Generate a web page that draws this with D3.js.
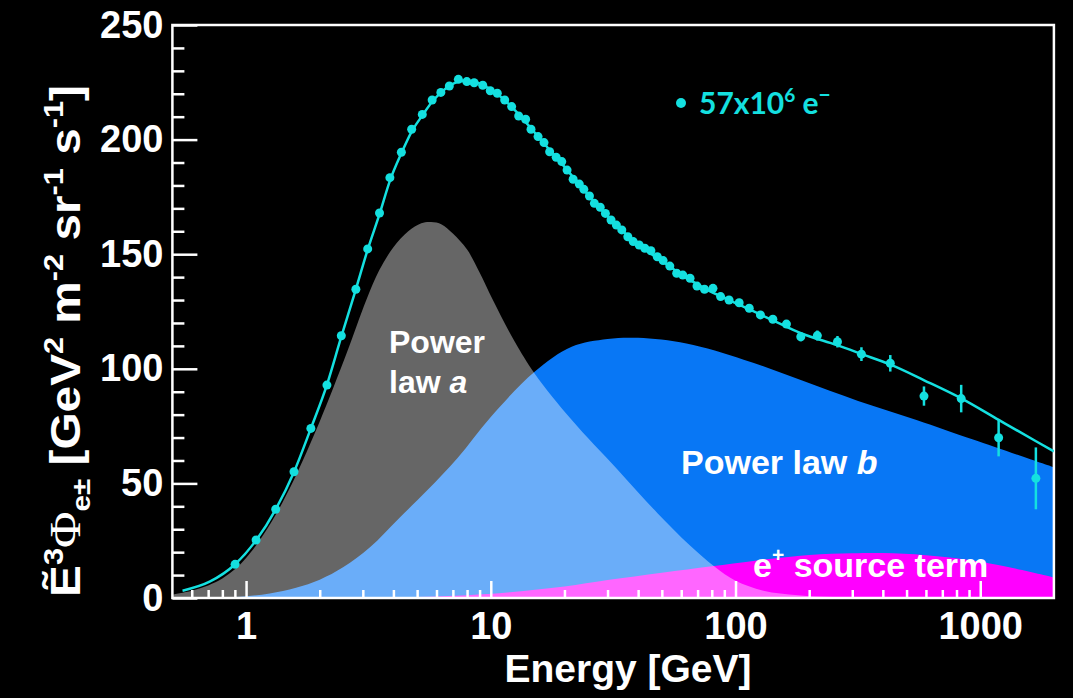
<!DOCTYPE html>
<html>
<head>
<meta charset="utf-8">
<script src="https://cdn.jsdelivr.net/npm/d3@7"></script>
<style>
  body { margin: 0; background: #000; }
  svg { display: block; }
</style>
</head>
<body>
<svg id="chart" width="1073" height="698"></svg>
<script>
// measured points (energy in GeV, E^3 flux)
const dataE = [0.902, 1.099, 1.322, 1.57, 1.84, 2.14, 2.45, 2.81, 3.14, 3.51, 3.87, 4.31, 4.75, 5.25, 5.76, 6.25, 6.77, 7.37, 7.98, 8.55, 9.27, 9.95, 10.63, 11.4, 12.17, 13.0, 13.88, 14.6, 15.6, 16.5, 17.4, 18.5, 19.5, 20.5, 21.7, 23.0, 24.0, 25.3, 26.5, 28.0, 29.4, 31.0, 32.6, 34.3, 36.3, 38.2, 40.4, 42.6, 45.1, 47.9, 50.6, 53.9, 57.5, 60.9, 65.2, 69.6, 74.7, 80.9, 86.9, 94.1, 103.5, 113.8, 126.4, 142.1, 161.5, 184.8, 216, 261, 327, 429, 589, 836, 1189, 1688];
const dataV = [14.7, 25.3, 38.7, 55.1, 74.0, 92.9, 114.4, 134.7, 152.3, 168, 183.4, 194.5, 204.5, 211, 217.3, 220.6, 223.4, 226.3, 225.3, 224.8, 223.7, 221.3, 220.2, 217.3, 214.4, 210.3, 208.9, 204.5, 201.3, 198.7, 194.7, 192.3, 190.4, 186.7, 182.7, 180.6, 178.3, 175.4, 172.2, 170.5, 167.8, 164.9, 162.7, 160.6, 157.6, 155.5, 154, 152.6, 151.5, 148.9, 147.2, 144.8, 141.7, 140.9, 139.5, 136.1, 134.7, 135.1, 131.5, 130, 128.8, 126.4, 123.5, 121.6, 119.5, 114, 114.5, 111.8, 106.4, 102.4, 88.1, 87, 69.9, 52.2];
const dataErr = [0.3, 0.3, 0.4, 0.5, 0.6, 0.7, 0.8, 0.8, 0.9, 0.9, 1, 1, 1, 1, 1, 1, 1, 1, 1, 1, 1, 1, 1, 1, 1, 1, 1, 1, 1, 1, 1, 1, 1, 1, 1, 1, 1, 1, 1, 1, 1, 1, 1, 1, 1, 1, 1, 1, 1, 1, 1, 1, 1, 1, 1, 1, 1, 1.1, 1.1, 1.2, 1.2, 1.3, 1.4, 1.5, 1.7, 2, 2.2, 2.5, 3, 3.6, 4.2, 6, 8.1, 13.5];

// full fit
const fitE = [0.55, 0.71, 0.9, 1.1, 1.32, 1.57, 1.84, 2.14, 2.45, 2.81, 3.14, 3.51, 3.87, 4.31, 4.75, 5.25, 5.76, 6.3, 6.9, 7.6, 8.4, 9.3, 10.6, 12.2, 14, 16.5, 19.5, 23, 28, 34, 40, 50, 60, 75, 94, 115, 140, 185, 260, 330, 430, 590, 840, 1190, 1690, 2000];
const fitV = [3.2, 7.1, 14.6, 25.2, 38.6, 55, 74, 93, 114, 134.7, 152, 167.5, 182, 194, 203.5, 210.5, 216.5, 220.8, 224, 225.6, 225.5, 223.8, 220, 214.2, 207.2, 198.3, 189.5, 180.4, 170, 160.8, 154.3, 147, 141.2, 135, 130, 125.7, 121.5, 115.5, 110.3, 106.3, 101.8, 95, 87, 77.7, 68.4, 64];

// power law a
const aE = [0.5, 0.6, 0.7, 0.8, 0.9, 1.0, 1.1, 1.3, 1.56, 2.0, 2.58, 3.1, 3.5, 4.0, 4.6, 5.2, 5.7, 6.3, 7.0, 8.0, 9.0, 10.2, 12.5, 15.1, 21.3, 33, 48, 65, 82, 100, 130, 180, 250, 400, 2000];
const aV = [1.5, 3.2, 5.5, 8.5, 12.5, 17.5, 23, 35, 51, 77, 107, 130, 143, 153, 160, 163.5, 164, 163, 159, 152, 142, 130, 112, 98, 78, 56, 37, 23, 13.7, 7.5, 3.2, 1.2, 0.4, 0.1, 0];

// power law b
const bE = [0.5, 0.8, 1.0, 1.25, 1.6, 2.0, 2.5, 3.2, 4.24, 5.5, 7.3, 10, 15.1, 21.4, 30, 40, 63, 108, 186, 317, 549, 942, 2000];
const bV = [0, 0.3, 0.8, 2, 4.5, 8, 13.5, 22, 35, 47, 61, 79, 98.7, 109.6, 113, 113.5, 111, 104, 95, 86, 77.7, 69, 57];

// e+ source term
const cE = [0.5, 3, 5, 8, 12, 20, 30, 50, 80, 120, 200, 300, 400, 600, 900, 1300, 2000];
const cV = [0, 0, 0.4, 1.2, 2.5, 5, 7.8, 11, 13.8, 16.3, 18.8, 19.5, 19.6, 18.7, 16.6, 13.5, 9];

const yMajor = [0, 50, 100, 150, 200, 250];
const xMajor = [1, 10, 100, 1000];

const cyan = '#14e0e0';
const font = 'Liberation Sans, Arial, sans-serif';

const svg = d3.select('#chart');
svg.append('rect').attr('width', 1073).attr('height', 698).attr('fill', '#000');

const x = d3.scaleLog().domain([0.5, 2000]).range([172.4, 1053.9]);
const y = d3.scaleLinear().domain([0, 250]).range([598, 25]);

svg.append('clipPath').attr('id', 'plot')
  .append('rect')
  .attr('x', x.range()[0]).attr('y', y.range()[1])
  .attr('width', x.range()[1] - x.range()[0])
  .attr('height', y.range()[0] - y.range()[1]);

const zip = (es, vs) => es.map((e, i) => ({ e: e, v: vs[i] }));

const area = d3.area()
  .x(d => x(d.e))
  .y0(y(0))
  .y1(d => y(d.v))
  .curve(d3.curveCatmullRom.alpha(0.5));

const areas = svg.append('g').attr('clip-path', 'url(#plot)');

areas.append('path')
  .attr('d', area(zip(bE, bV)))
  .attr('fill', '#0877f5');

areas.append('path')
  .attr('d', area(zip(cE, cV)))
  .attr('fill', '#ff00ff');

// white at 40% gives grey on black, light blue on blue, pink on magenta
areas.append('path')
  .attr('d', area(zip(aE, aV)))
  .attr('fill', '#fff')
  .attr('fill-opacity', 0.4);

// axes
svg.append('g')
  .attr('transform', `translate(${x.range()[0]},0)`)
  .call(d3.axisLeft(y).tickValues(yMajor).tickSize(-25).tickPadding(9));

svg.append('g')
  .attr('transform', `translate(${x.range()[0]},0)`)
  .call(d3.axisLeft(y).tickValues(d3.range(0, 251, 10).filter(v => v % 50 !== 0)).tickSize(-12).tickFormat(''));

const xMinor = [];
[0.1, 1, 10, 100].forEach(p => {
  for (let k = 2; k <= 9; k++) {
    const v = p * k;
    if (v > 0.5 && v < 2000) xMinor.push(v);
  }
});

svg.append('g')
  .attr('transform', `translate(0,${y.range()[0]})`)
  .call(d3.axisBottom(x).tickValues(xMajor).tickFormat(d3.format('d')).tickSize(-17).tickPadding(14));

svg.append('g')
  .attr('transform', `translate(0,${y.range()[0]})`)
  .call(d3.axisBottom(x).tickValues(xMinor).tickSize(-8).tickFormat(''));

svg.selectAll('.domain').remove();
svg.selectAll('.tick line').attr('stroke', '#fff').attr('stroke-width', 2.5);
svg.selectAll('.tick text')
  .attr('fill', '#fff')
  .style('font-family', font)
  .style('font-weight', 'bold')
  .style('font-size', '38px');

svg.append('rect')
  .attr('x', x.range()[0]).attr('y', y.range()[1])
  .attr('width', x.range()[1] - x.range()[0])
  .attr('height', y.range()[0] - y.range()[1])
  .attr('fill', 'none')
  .attr('stroke', '#fff')
  .attr('stroke-width', 2.5);

// fit line and points
const line = d3.line()
  .x(d => x(d.e))
  .y(d => y(d.v))
  .curve(d3.curveMonotoneX);

svg.append('path')
  .attr('clip-path', 'url(#plot)')
  .attr('d', line(zip(fitE, fitV)))
  .attr('fill', 'none')
  .attr('stroke', cyan)
  .attr('stroke-width', 2.5);

const pts = dataE.map((e, i) => ({ e: e, v: dataV[i], err: dataErr[i] }));

svg.append('g').selectAll('line')
  .data(pts)
  .enter()
  .append('line')
  .attr('x1', d => x(d.e)).attr('x2', d => x(d.e))
  .attr('y1', d => y(d.v - d.err)).attr('y2', d => y(d.v + d.err))
  .attr('stroke', cyan)
  .attr('stroke-width', 2.5);

svg.append('g').selectAll('circle')
  .data(pts)
  .enter()
  .append('circle')
  .attr('cx', d => x(d.e))
  .attr('cy', d => y(d.v))
  .attr('r', 4.5)
  .attr('fill', cyan);

// legend
svg.append('circle').attr('cx', 681).attr('cy', 103).attr('r', 5).attr('fill', cyan);
const leg = svg.append('text')
  .attr('x', 699).attr('y', 114)
  .attr('fill', cyan)
  .style('font-family', 'Lato, sans-serif')
  .style('font-weight', 'bold')
  .style('font-size', '30px');
leg.append('tspan').text('57x10');
leg.append('tspan').attr('dy', -12).style('font-size', '19px').text('6');
leg.append('tspan').attr('dy', 12).text(' e');
leg.append('tspan').attr('dy', -12).style('font-size', '21px').text('\u2212');

// component labels
const label = (xp, yp, size) => svg.append('text')
  .attr('x', xp).attr('y', yp)
  .attr('fill', '#fff')
  .style('font-family', font)
  .style('font-weight', 'bold')
  .style('font-size', size + 'px');

label(389, 353, 32).text('Power');
const la = label(389, 393, 32);
la.append('tspan').text('law ');
la.append('tspan').style('font-style', 'italic').text('a');

const lb = label(681, 474, 34);
lb.append('tspan').text('Power law ');
lb.append('tspan').style('font-style', 'italic').text('b');

const lc = label(753, 577, 34);
lc.append('tspan').text('e');
lc.append('tspan').attr('dy', -15).style('font-size', '21px').text('+');
lc.append('tspan').attr('dy', 15).text(' source term');

// axis titles
label(628, 682, 39).attr('text-anchor', 'middle').text('Energy [GeV]');

const yt = svg.append('text')
  .attr('transform', 'translate(80,341) rotate(-90)')
  .attr('text-anchor', 'middle')
  .attr('textLength', 512)
  .attr('lengthAdjust', 'spacingAndGlyphs')
  .attr('fill', '#fff')
  .style('font-family', font)
  .style('font-weight', 'bold')
  .style('font-size', '42px');
const sup = (t, s) => {
  yt.append('tspan').attr('dy', -17).style('font-size', '27px').text(s);
  yt.append('tspan').attr('dy', 17).text(t);
};
yt.append('tspan').text('\u1EBC');
yt.append('tspan').attr('dy', -17).style('font-size', '27px').text('3');
yt.append('tspan').attr('dy', 17)
  .style('font-family', 'Liberation Serif, serif')
  .style('font-weight', 'normal')
  .style('font-size', '44px')
  .text('\u03A6');
yt.append('tspan').attr('dy', 10).style('font-size', '26px').text('e\u00B1');
yt.append('tspan').attr('dy', -10).text(' [GeV');
sup(' m', '2');
sup(' sr', '-2');
sup(' s', '-1');
sup(']', '-1');
</script>
</body>
</html>
